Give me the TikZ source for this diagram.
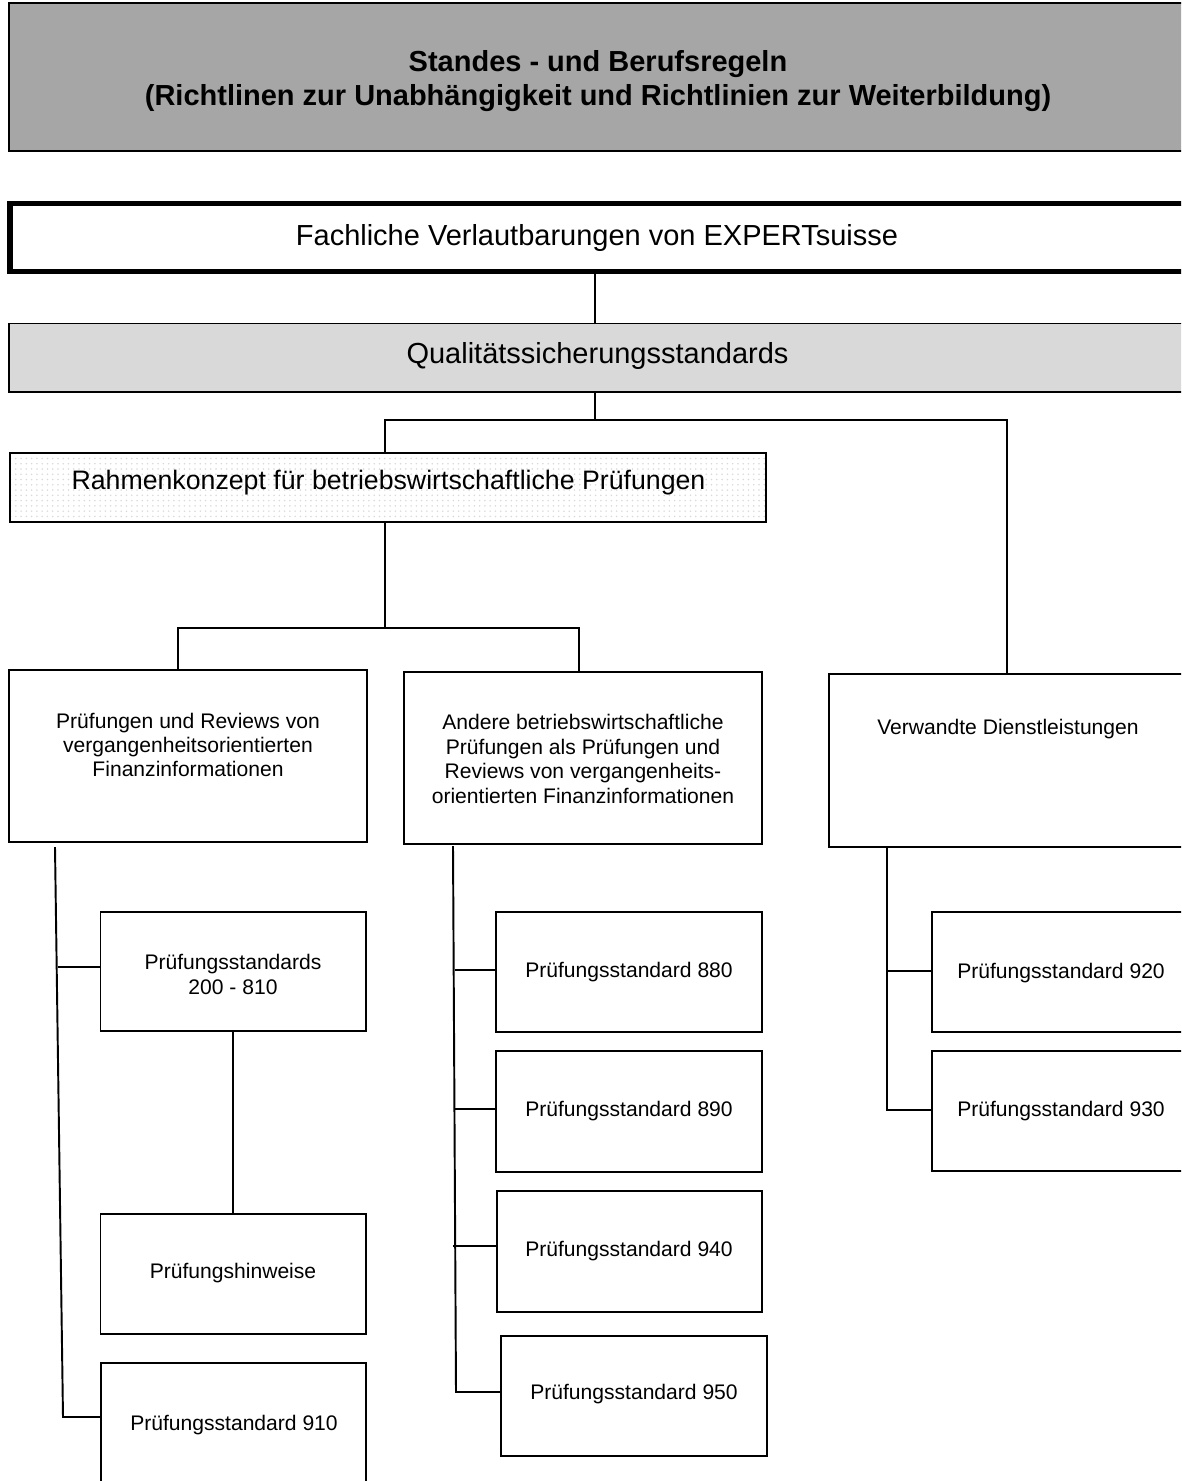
\documentclass[tikz,border=0pt]{standalone}
\usepackage{fontspec}
\setmainfont{Liberation Sans}
\usetikzlibrary{patterns}
\definecolor{titlegray}{HTML}{A6A6A6}
\definecolor{qualgray}{HTML}{D9D9D9}
\begin{document}
\begin{tikzpicture}[x=0.02cm,y=-0.02cm,
  bx/.style 2 args={draw=black, line width=1.1pt, minimum width=#1*0.02cm, minimum height=#2*0.02cm, inner sep=0pt, shape=rectangle},
  bigtxt/.style={font=\fontsize{16.5}{19.8}\selectfont, inner sep=0pt, align=center},
  smalltxt/.style={font=\fontsize{12}{13.9}\selectfont, inner sep=0pt, align=center},
  conn/.style={draw=black, line width=1.1pt}]
\useasboundingbox (0,0) rectangle (1181,1481);
\clip (0,0) rectangle (1181,1481);
% boxes
\node[bx={1181}{148}, fill=titlegray, line width=1pt] (title) at (599.5,77) {};
\node[bigtxt, font=\fontsize{16.5}{19.8}\selectfont\bfseries] (titletxt) at (598,81) {Standes - und Berufsregeln\\(Richtlinen zur Unabhängigkeit und Richtlinien zur Weiterbildung)};
\node[bx={1180}{68}, line width=3.4pt] (fach) at (600,237.5) {};
\node[bigtxt] (fachtxt) at (597,238.5) {Fachliche Verlautbarungen von EXPERTsuisse};
\node[bx={1181}{68.5}, fill=qualgray, line width=1pt] (qual) at (599.5,357.75) {};
\node[bigtxt] (qualtxt) at (597.5,355.5) {Qualitätssicherungsstandards};
\node[bx={756}{69}, line width=1.4pt, pattern=dots, pattern color=gray!30] (rahmen) at (388,487.5) {};
\node[bigtxt, font=\fontsize{15.2}{18}\selectfont] (rahmentxt) at (388.5,483) {Rahmenkonzept für betriebswirtschaftliche Prüfungen};
\node[bx={358}{172}] (boxA) at (188,756) {};
\node[smalltxt] (boxAtxt) at (188,745) {Prüfungen und Reviews von\\vergangenheitsorientierten\\Finanzinformationen};
\node[bx={358}{172}] (boxB) at (583,758) {};
\node[smalltxt] (boxBtxt) at (583,759) {Andere betriebswirtschaftliche\\Prüfungen als Prüfungen und\\Reviews von vergangenheits-\\orientierten Finanzinformationen};
\node[bx={361}{173}] (boxC) at (1009.5,760.5) {};
\node[smalltxt] (boxCtxt) at (1008,729) {Verwandte Dienstleistungen};
\node[bx={265.5}{119}] (s200) at (233.25,971.5) {};
\node[smalltxt] (s200txt) at (233,974.5) {Prüfungsstandards\\200 - 810};
\node[bx={265.5}{120}] (hinw) at (233.25,1274) {};
\node[smalltxt] (hinwtxt) at (233,1273) {Prüfungshinweise};
\node[bx={265}{137}] (s910) at (233.5,1431.5) {};
\node[smalltxt] (s910txt) at (234,1425) {Prüfungsstandard 910};
\node[bx={266}{120}] (s880) at (629,972) {};
\node[smalltxt] (s880txt) at (629,972) {Prüfungsstandard 880};
\node[bx={266}{121}] (s890) at (629,1111.5) {};
\node[smalltxt] (s890txt) at (629,1111) {Prüfungsstandard 890};
\node[bx={265}{121}] (s940) at (629.5,1251.5) {};
\node[smalltxt] (s940txt) at (629,1251) {Prüfungsstandard 940};
\node[bx={266}{120}] (s950) at (634,1396) {};
\node[smalltxt] (s950txt) at (634,1394) {Prüfungsstandard 950};
\node[bx={263}{120}] (s920) at (1063.5,972) {};
\node[smalltxt] (s920txt) at (1061,973) {Prüfungsstandard 920};
\node[bx={263}{120}] (s930) at (1063.5,1111) {};
\node[smalltxt] (s930txt) at (1061,1111) {Prüfungsstandard 930};
% junction coordinates
\coordinate (jq) at (595,420);
\coordinate (jl) at (385,420);
\coordinate (jr) at (1007,420);
\coordinate (k) at (385,628);
\coordinate (kl) at (178,628);
\coordinate (kr) at (579,628);
\coordinate (a1) at (55,847);
\coordinate (a2) at (63,1417);
\coordinate (a3) at (58,967);
\coordinate (b1) at (453,846);
\coordinate (b2) at (456,1392);
\coordinate (b880) at (455,970);
\coordinate (b890) at (455,1109);
\coordinate (b940) at (453,1246);
\coordinate (c1) at (887,1110);
\coordinate (c2) at (887,971);
% connectors
\draw[conn] (jq |- fach.south) -- (jq |- qual.north);
\draw[conn] (jq |- qual.south) -- (jq);
\draw[conn] (jl |- rahmen.north) -- (jl) -- (jr) -- (jr |- boxC.north);
\draw[conn] (k |- rahmen.south) -- (k);
\draw[conn] (kl |- boxA.north) -- (kl) -- (kr) -- (kr |- boxB.north);
\draw[conn] (a1) -- (a2) -- (a2 -| s910.west);
\draw[conn] (a3) -- (a3 -| s200.west);
\draw[conn] (s200.south) -- (hinw.north);
\draw[conn] (b1) -- (b2) -- (b2 -| s950.west);
\draw[conn] (b880) -- (b880 -| s880.west);
\draw[conn] (b890) -- (b890 -| s890.west);
\draw[conn] (b940) -- (b940 -| s940.west);
\draw[conn] (c1 |- boxC.south) -- (c1) -- (c1 -| s930.west);
\draw[conn] (c2) -- (c2 -| s920.west);
\end{tikzpicture}
\end{document}
